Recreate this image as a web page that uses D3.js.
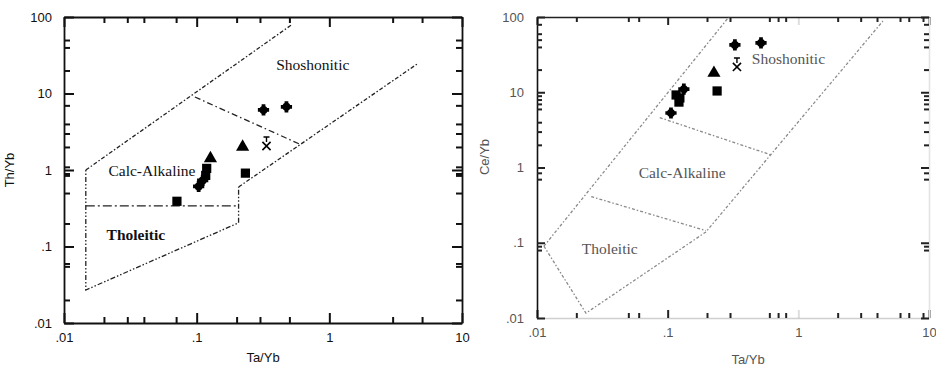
<!DOCTYPE html>
<html>
<head>
<meta charset="utf-8">
<script src="https://cdn.jsdelivr.net/npm/d3@7"></script>
<style>
  html, body { margin: 0; padding: 0; background: #fff; }
  svg { display: block; }
</style>
</head>
<body>
<svg id="chart" width="936" height="367"></svg>
<script>
// ---- axis ticks -------------------------------------------------------
const majorX = [0.01, 0.1, 1, 10];
const xTickLabels = [".01", ".1", "1", "10"];
const majorY = [0.01, 0.1, 1, 10, 100];
const yTickLabels = [".01", ".1", "1", "10", "100"];

const leftMinorX = [0.02, 0.03, 0.04, 0.07, 0.2, 0.3, 0.5, 3, 5];
const leftMinorY = [50, 40, 20, 7, 4, 3, 2, 1.1, 0.9, 0.85, 0.5, 0.2, 0.06, 0.055, 0.02];
const rightMinorX = [0.02, 0.05, 0.06, 0.2, 0.3, 0.6, 0.7, 0.8, 2, 3, 4, 6, 7, 9];
const rightMinorY = [80, 60, 50, 40, 20, 9, 8, 7, 6, 4, 3, 2, 0.85, 0.7, 0.09, 0.08];

// ---- samples: Th/Yb vs Ta/Yb -------------------------------------------
const leftTaYb  = [0.319, 0.475, 0.336, 0.222, 0.233, 0.1035, 0.111, 0.117, 0.119, 0.127, 0.071];
const leftThYb  = [6.1,   6.7,   2.06,  2.0,   0.91,  0.61,   0.73,  0.85,  1.05,  1.42,  0.39];
const leftShape = ["star", "star", "x", "tri", "sq", "star", "star", "sq", "sq", "tri", "sq"];

// ---- samples: Ce/Yb vs Ta/Yb -------------------------------------------
const rightTaYb  = [0.327, 0.518, 0.339, 0.226, 0.239, 0.106, 0.116, 0.124, 0.122, 0.133];
const rightCeYb  = [42.5,  45.2,  21.7,  18.0,  10.4,  5.3,   9.2,   8.4,   7.4,   11.0];
const rightShape = ["star", "star", "x", "tri", "sq", "star", "sq", "sq", "sq", "star"];

// ---- field boundaries --------------------------------------------------
const leftUpper   = [[0.0146, 1.0], [0.517, 78.5]];
const leftOuter   = [[0.0146, 1.0], [0.0146, 0.027], [0.207, 0.204], [0.207, 0.6]];
const leftLowerR  = [[0.207, 0.6], [4.59, 24.3]];
const leftThCa    = [[0.0146, 0.34], [0.207, 0.34]];
const leftCaSho   = [[0.097, 9.0], [0.594, 2.19]];

const rightUpper  = [[0.0113, 0.09], [0.294, 100]];
const rightLower  = [[0.0113, 0.09], [0.0237, 0.0116], [0.196, 0.139], [4.44, 88.5]];
const rightThCa   = [[0.026, 0.41], [0.196, 0.145]];
const rightCaSho  = [[0.087, 4.6], [0.618, 1.47]];

const svg = d3.select("#chart");

function drawPanel(cfg) {
  const g = svg.append("g");
  const x = d3.scaleLog().domain([0.01, 10]).range([cfg.x0, cfg.x1]);
  const y = d3.scaleLog().domain([0.01, 100]).range([cfg.y1, cfg.y0]);

  // frame and ticks on all four sides, pointing inward
  const sides = [
    {axis: d3.axisBottom, scale: x, pos: `translate(0,${cfg.y1})`, minor: cfg.minorX, major: majorX, labels: xTickLabels, pad: cfg.labelPadX, color: cfg.bottomColor, faded: cfg.fadedX},
    {axis: d3.axisTop,    scale: x, pos: `translate(0,${cfg.y0})`, minor: cfg.minorX, major: majorX, labels: null, pad: 0, color: cfg.topColor, faded: cfg.fadedX},
    {axis: d3.axisLeft,   scale: y, pos: `translate(${cfg.x0},0)`, minor: cfg.minorY, major: majorY, labels: yTickLabels, pad: cfg.labelPadY, color: cfg.leftColor},
    {axis: d3.axisRight,  scale: y, pos: `translate(${cfg.x1},0)`, minor: cfg.minorY, major: majorY, labels: null, pad: 0, color: cfg.rightColor}
  ];
  sides.forEach(s => {
    const minorAx = s.axis(s.scale).tickValues(s.minor).tickSizeInner(-cfg.minorLen).tickSizeOuter(0).tickFormat("");
    const gm = g.append("g").attr("transform", s.pos).call(minorAx);
    gm.select(".domain").attr("stroke", s.color).attr("stroke-width", cfg.spineW);
    gm.selectAll(".tick line").attr("stroke", cfg.tickColor).attr("stroke-width", 2);

    const majorAx = s.axis(s.scale).tickValues(s.major).tickSizeInner(-cfg.majorLen).tickSizeOuter(0)
      .tickPadding(s.pad)
      .tickFormat((d, i) => s.labels ? s.labels[i] : "");
    const ga = g.append("g").attr("transform", s.pos).call(majorAx);
    ga.select(".domain").remove();
    ga.selectAll(".tick line").attr("stroke", cfg.tickColor).attr("stroke-width", 2)
      .attr("opacity", d => (s.faded || []).includes(d) ? 0.15 : 1);
    ga.selectAll(".tick text").attr("font-size", 13).attr("fill", cfg.textColor)
      .attr("font-family", "'Liberation Sans', Arial, sans-serif");
  });

  // field boundaries
  const line = d3.line().x(d => x(d[0])).y(d => y(d[1]));
  cfg.bounds.forEach(b => {
    g.append("path").attr("d", line(b.pts)).attr("fill", "none")
      .attr("stroke", cfg.lineColor).attr("stroke-width", 1.3)
      .attr("stroke-dasharray", b.dash);
  });

  // field names
  cfg.fields.forEach(f => {
    g.append("text").attr("x", x(f.at[0])).attr("y", y(f.at[1]))
      .attr("text-anchor", "middle").attr("dominant-baseline", "central")
      .attr("font-family", "'Liberation Serif', 'Times New Roman', serif")
      .attr("font-size", 15.5).attr("font-weight", f.bold ? "bold" : "normal")
      .attr("fill", cfg.textColor).text(f.name);
  });

  // samples
  const pts = cfg.xs.map((v, i) => ({x: v, y: cfg.ys[i], s: cfg.shapes[i]}));
  pts.forEach(p => {
    const sg = g.append("g").attr("transform", `translate(${x(p.x)},${y(p.y)})`);
    if (p.s === "sq") {
      sg.append("path").attr("d", d3.symbol(d3.symbolSquare, 85)()).attr("fill", "#000");
    } else if (p.s === "tri") {
      sg.append("path").attr("d", d3.symbol(d3.symbolTriangle, 75)()).attr("fill", "#000");
    } else if (p.s === "star") {
      sg.append("path").attr("d", d3.symbol(d3.symbolCircle, 50)()).attr("fill", "#000");
      sg.append("path").attr("d", d3.symbol(d3.symbolCross, 70)()).attr("fill", "#000");
    } else {
      sg.append("path").attr("d", d3.symbol(d3.symbolTimes, 45)())
        .attr("fill", "none").attr("stroke", "#000").attr("stroke-width", 1.6);
      sg.append("path").attr("d", "M0,-4V-9M-3,-9H3")
        .attr("fill", "none").attr("stroke", "#000").attr("stroke-width", 1.4);
    }
  });

  // axis titles
  g.append("text").attr("x", cfg.xTitleAt[0]).attr("y", cfg.xTitleAt[1])
    .attr("text-anchor", "middle").attr("font-family", "'Liberation Sans', Arial, sans-serif")
    .attr("font-size", 13).attr("fill", cfg.textColor).text("Ta/Yb");
  g.append("text").attr("transform", `translate(${cfg.yTitleAt[0]},${cfg.yTitleAt[1]}) rotate(-90)`)
    .attr("text-anchor", "middle").attr("font-family", "'Liberation Sans', Arial, sans-serif")
    .attr("font-size", 13).attr("fill", cfg.textColor).text(cfg.yTitle);
}

drawPanel({
  x0: 64, x1: 462, y0: 17, y1: 323,
  minorX: leftMinorX, minorY: leftMinorY,
  minorLen: 6, majorLen: 10, labelPadX: 10, labelPadY: 12, spineW: 1.8,
  bottomColor: "#111", topColor: "#111", leftColor: "#111", rightColor: "#111",
  tickColor: "#111", textColor: "#111", lineColor: "#222",
  bounds: [
    {pts: leftUpper,  dash: "4,2,1.5,2"},
    {pts: leftOuter,  dash: "1.5,2,1.5,2,5,2"},
    {pts: leftLowerR, dash: "4,2,1.5,2"},
    {pts: leftThCa,   dash: "9,3,2,3"},
    {pts: leftCaSho,  dash: "6,3,1.5,3"}
  ],
  fields: [
    {name: "Shoshonitic", at: [0.75, 24]},
    {name: "Calc-Alkaline", at: [0.046, 1.0]},
    {name: "Tholeitic", at: [0.0348, 0.145], bold: true}
  ],
  xs: leftTaYb, ys: leftThYb, shapes: leftShape,
  xTitleAt: [263, 362], yTitleAt: [14, 170], yTitle: "Th/Yb"
});

drawPanel({
  x0: 537, x1: 929, y0: 17, y1: 318,
  minorX: rightMinorX, minorY: rightMinorY,
  minorLen: 5, majorLen: 8, labelPadX: 10, labelPadY: 13, spineW: 1.6,
  bottomColor: "#cfcfcf", topColor: "#222", leftColor: "#111", rightColor: "#e4e4e4",
  tickColor: "#222", textColor: "#555", lineColor: "#8a8a8a",
  fadedX: [1],
  bounds: [
    {pts: rightUpper, dash: "3,2,1.5,2"},
    {pts: rightLower, dash: "3,2,1.5,2"},
    {pts: rightThCa,  dash: "3,2,1.5,2"},
    {pts: rightCaSho, dash: "3,2,1.5,2"}
  ],
  fields: [
    {name: "Shoshonitic", at: [0.84, 28.5]},
    {name: "Calc-Alkaline", at: [0.129, 0.86]},
    {name: "Tholeitic", at: [0.036, 0.085]}
  ],
  xs: rightTaYb, ys: rightCeYb, shapes: rightShape,
  xTitleAt: [748, 364], yTitleAt: [489, 157], yTitle: "Ce/Yb"
});
</script>
</body>
</html>
